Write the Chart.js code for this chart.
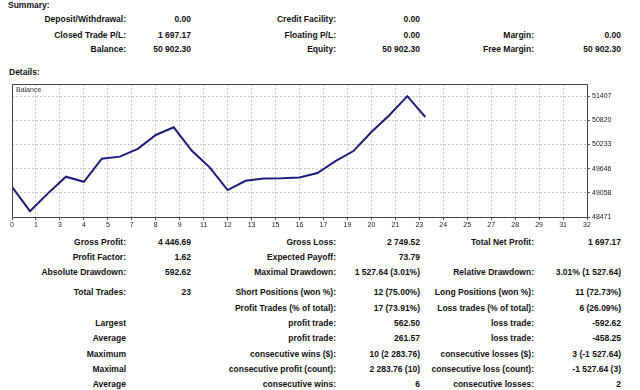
<!DOCTYPE html>
<html>
<head>
<meta charset="utf-8">
<script src="https://cdn.jsdelivr.net/npm/chart.js@4/dist/chart.umd.min.js"></script>
<style>
  html, body { margin: 0; padding: 0; background: #fff; }
  body { width: 640px; height: 390px; position: relative; overflow: hidden;
         font-family: "Liberation Sans", Arial, sans-serif; font-size: 8.5px; color: #111; }
  .t { position: absolute; white-space: nowrap; line-height: 12px; font-weight: bold; }
  #wrap { position: absolute; left: 0; top: 78px; width: 640px; height: 156px; }
</style>
</head>
<body>
<div class="t" style="left:8px;top:-1px;">Summary:</div>
<div class="t" style="left:9px;top:66px;">Details:</div>
<div id="wrap"><canvas id="c" width="640" height="156"></canvas></div>
<div class="t" style="left:16px;top:84px;font-size:7px;color:#333;font-weight:normal;">Balance</div>
<script>
// ---- chart data ----
const trades = [0,1,2,3,4,5,6,7,8,9,10,11,12,13,14,15,16,17,18,19,20,21,22,23];
const balance = [49205.13, 48612.51, 49046, 49450, 49327, 49890, 49939, 50127, 50465, 50652.64,
                 50086, 49678, 49125, 49352, 49408, 49415, 49433, 49540, 49829, 50074,
                 50538, 50947, 51408.76, 50902.30];
const xTickLabels = ['0','1','3','4','5','7','8','9','11','12','13','15','16','17','19','20','21','23','24','25','27','28','29','31','32'];
const yTickValues = [48471, 49058, 49646, 50233, 50820, 51407];

// ---- table texts ----
const summaryRows = [
  ['Deposit/Withdrawal:', '0.00', 'Credit Facility:', '0.00', '', ''],
  ['Closed Trade P/L:', '1 697.17', 'Floating P/L:', '0.00', 'Margin:', '0.00'],
  ['Balance:', '50 902.30', 'Equity:', '50 902.30', 'Free Margin:', '50 902.30']
];
const detailRows = [
  ['Gross Profit:', '4 446.69', 'Gross Loss:', '2 749.52', 'Total Net Profit:', '1 697.17'],
  ['Profit Factor:', '1.62', 'Expected Payoff:', '73.79', '', ''],
  ['Absolute Drawdown:', '592.62', 'Maximal Drawdown:', '1 527.64 (3.01%)', 'Relative Drawdown:', '3.01% (1 527.64)'],
  ['Total Trades:', '23', 'Short Positions (won %):', '12 (75.00%)', 'Long Positions (won %):', '11 (72.73%)'],
  ['', '', 'Profit Trades (% of total):', '17 (73.91%)', 'Loss trades (% of total):', '6 (26.09%)'],
  ['Largest', '', 'profit trade:', '562.50', 'loss trade:', '-592.62'],
  ['Average', '', 'profit trade:', '261.57', 'loss trade:', '-458.25'],
  ['Maximum', '', 'consecutive wins ($):', '10 (2 283.76)', 'consecutive losses ($):', '3 (-1 527.64)'],
  ['Maximal', '', 'consecutive profit (count):', '2 283.76 (10)', 'consecutive loss (count):', '-1 527.64 (3)'],
  ['Average', '', 'consecutive wins:', '6', 'consecutive losses:', '2']
];

const colRight = [126, 191, 336, 420, 534, 621];
const summaryY = [19, 35, 49];
const detailY = [242, 257, 272, 292, 308, 323, 338, 354, 369, 384];

function addRows(rows, ys) {
  rows.forEach((r, ri) => {
    r.forEach((txt, ci) => {
      if (!txt) return;
      const d = document.createElement('div');
      d.className = 't';
      d.textContent = txt;
      d.style.right = (640 - colRight[ci]) + 'px';
      d.style.top = (ys[ri] - 6) + 'px';
      document.body.appendChild(d);
    });
  });
}
addRows(summaryRows, summaryY);
addRows(detailRows, detailY);

const frame = {
  id: 'frame',
  afterDraw(chart) {
    const a = chart.chartArea, ctx = chart.ctx;
    ctx.save();
    ctx.strokeStyle = '#444';
    ctx.lineWidth = 1;
    ctx.strokeRect(Math.round(a.left) + 0.5, Math.round(a.top) + 0.5,
                   Math.round(a.right - a.left), Math.round(a.bottom - a.top));
    ctx.restore();
  }
};

new Chart(document.getElementById('c'), {
  type: 'line',
  data: {
    datasets: [{
      data: trades.map((t, i) => ({ x: t, y: balance[i] })),
      borderColor: '#1c1c7a',
      borderWidth: 2,
      pointRadius: 0,
      tension: 0,
      fill: false
    }]
  },
  options: {
    responsive: false,
    animation: false,
    layout: { padding: { left: 12, top: 6, right: 0, bottom: 0 } },
    plugins: { legend: { display: false }, tooltip: { enabled: false } },
    scales: {
      x: {
        type: 'linear', min: 0, max: 32,
        afterBuildTicks: s => { s.ticks = xTickLabels.map((_, i) => ({ value: i * 32 / (xTickLabels.length - 1) })); },
        afterFit: s => { s.height = 17; },
        ticks: { autoSkip: false, maxRotation: 0, padding: 1, color: '#222',
                 font: { family: 'Liberation Sans', size: 7 },
                 callback: (v, i) => xTickLabels[i] },
        grid: { color: '#c4c4c4', tickColor: '#555', tickLength: 3 },
        border: { display: false, dash: [2, 2] }
      },
      y: {
        position: 'right', min: 48471, max: 51700,
        afterBuildTicks: s => { s.ticks = yTickValues.map(v => ({ value: v })); },
        afterFit: s => { s.width = 53; },
        ticks: { padding: 2, color: '#222', font: { family: 'Liberation Sans', size: 7 },
                 callback: v => String(v) },
        grid: { color: '#c4c4c4', tickColor: '#555', tickLength: 3 },
        border: { display: false, dash: [2, 2] }
      }
    }
  },
  plugins: [frame]
});
</script>
</body>
</html>
